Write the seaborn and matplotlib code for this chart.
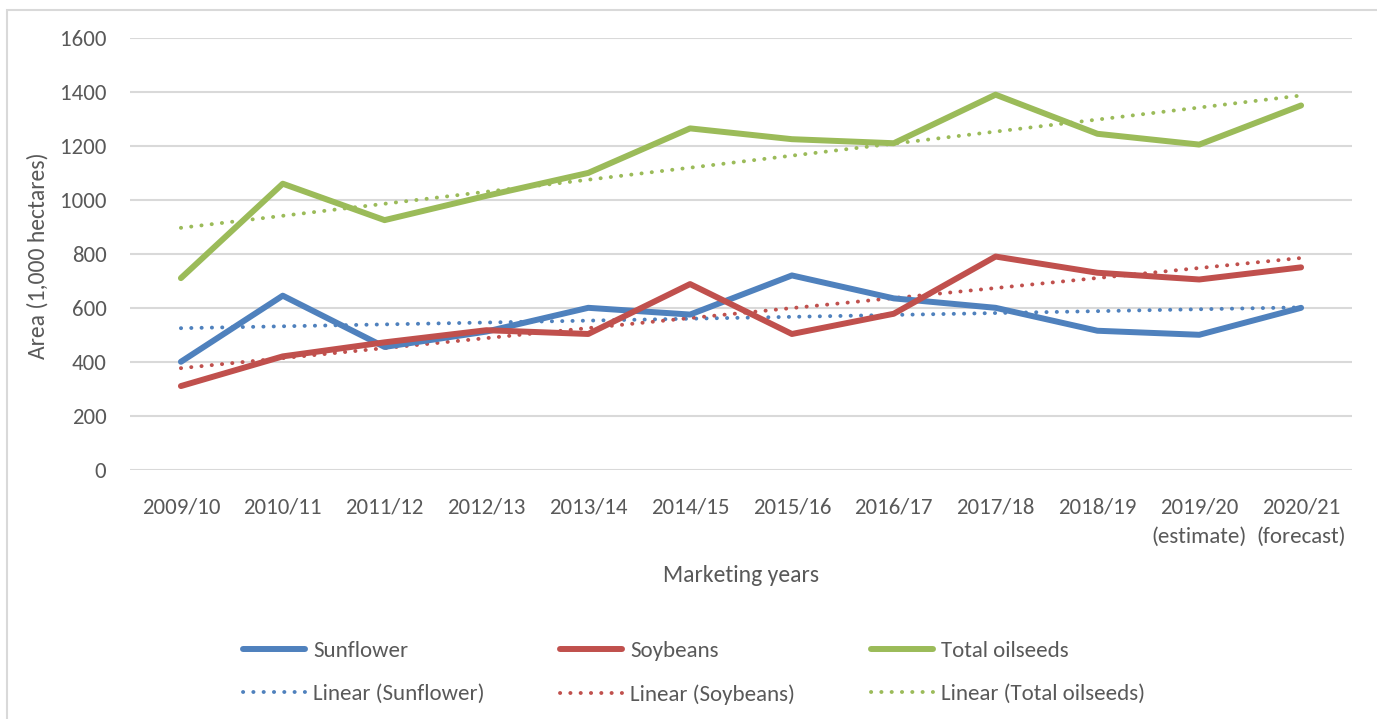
import numpy as np
import pandas as pd
import matplotlib
matplotlib.use("Agg")
import matplotlib.pyplot as plt
import seaborn as sns
from matplotlib.patches import Rectangle

# ---- data ----
years = ["2009/10", "2010/11", "2011/12", "2012/13", "2013/14", "2014/15",
         "2015/16", "2016/17", "2017/18", "2018/19", "2019/20\n(estimate)", "2020/21\n(forecast)"]
sunflower = [400, 645, 455, 512, 600, 575, 720, 635, 600, 515, 500, 600]
soybeans = [310, 420, 472, 517, 503, 688, 503, 578, 790, 730, 705, 750]
total_oilseeds = [710, 1060, 925, 1015, 1100, 1265, 1225, 1210, 1390, 1245, 1205, 1350]
series_names = ["Sunflower", "Soybeans", "Total oilseeds"]
y_ticks = [0, 200, 400, 600, 800, 1000, 1200, 1400, 1600]

colors = {"Sunflower": "#4F81BD", "Soybeans": "#C0504D", "Total oilseeds": "#9BBB59"}
text_color = "#595959"

sns.set_theme(style="white")
plt.rcParams['font.family'] = ['Carlito', 'Lato', 'DejaVu Sans']

fig = plt.figure(figsize=(13.77, 7.19), dpi=100)
ax = fig.add_axes([130/1377, 1-469.7/719, (1352-130)/1377, (469.7-38)/719])

# chart border
fig.patches.append(Rectangle((7/1377, -0.1), 1.2, 1-10/719+0.1, transform=fig.transFigure,
                             fill=False, edgecolor="#D9D9D9", linewidth=1.5, zorder=0))

x_idx = np.arange(len(years))
values = {"Sunflower": sunflower, "Soybeans": soybeans, "Total oilseeds": total_oilseeds}

handles = {}
for name in series_names:
    df = pd.DataFrame({"x": x_idx, "y": values[name]})
    sns.lineplot(data=df, x="x", y="y", ax=ax, color=colors[name], linewidth=4.3,
                 solid_capstyle="round", solid_joinstyle="round", zorder=3)
    handles[name] = ax.lines[-1]
    coef = np.polyfit(x_idx, values[name], 1)
    trend = pd.DataFrame({"x": x_idx, "y": np.polyval(coef, x_idx)})
    sns.lineplot(data=trend, x="x", y="y", ax=ax, color=colors[name], linewidth=2.8,
                 linestyle=(0, (0.05, 2.6)), dash_capstyle="round", zorder=2)
    handles["Linear (" + name + ")"] = ax.lines[-1]

ax.set_xlim(-0.5, len(years) - 0.5)
ax.set_ylim(0, 1600)
ax.set_yticks(y_ticks)
ax.set_yticklabels([str(v) for v in y_ticks])
ax.set_xticks(x_idx)
ax.set_xticklabels(years, linespacing=1.6)
ax.tick_params(axis="x", length=0, pad=20, labelsize=16.5, labelcolor=text_color)
ax.tick_params(axis="y", length=0, pad=17, labelsize=16.5, labelcolor=text_color)
ax.grid(axis="y", color="#D9D9D9", linewidth=1.5)
ax.set_axisbelow(True)
for s in ax.spines.values():
    s.set_visible(False)

ax.set_xlabel("")
ax.set_ylabel("")
fig.text(38/1377, 1-256/719, "Area (1,000 hectares)", rotation=90, ha="center", va="center",
         fontsize=17, color=text_color)
fig.text(741/1377, 1-575/719, "Marketing years", ha="center", va="center",
         fontsize=17, color=text_color)

order = ["Sunflower", "Linear (Sunflower)", "Soybeans", "Linear (Soybeans)",
         "Total oilseeds", "Linear (Total oilseeds)"]
leg = fig.legend([handles[k] for k in order], order, ncol=3, loc="center",
                 bbox_to_anchor=(694/1377, 1-673/719), frameon=False, fontsize=16.5,
                 handlelength=2.7, handletextpad=0.35, columnspacing=3.3, labelspacing=1.0)
for t in leg.get_texts():
    t.set_color(text_color)

fig.savefig("out.png", dpi=100)
